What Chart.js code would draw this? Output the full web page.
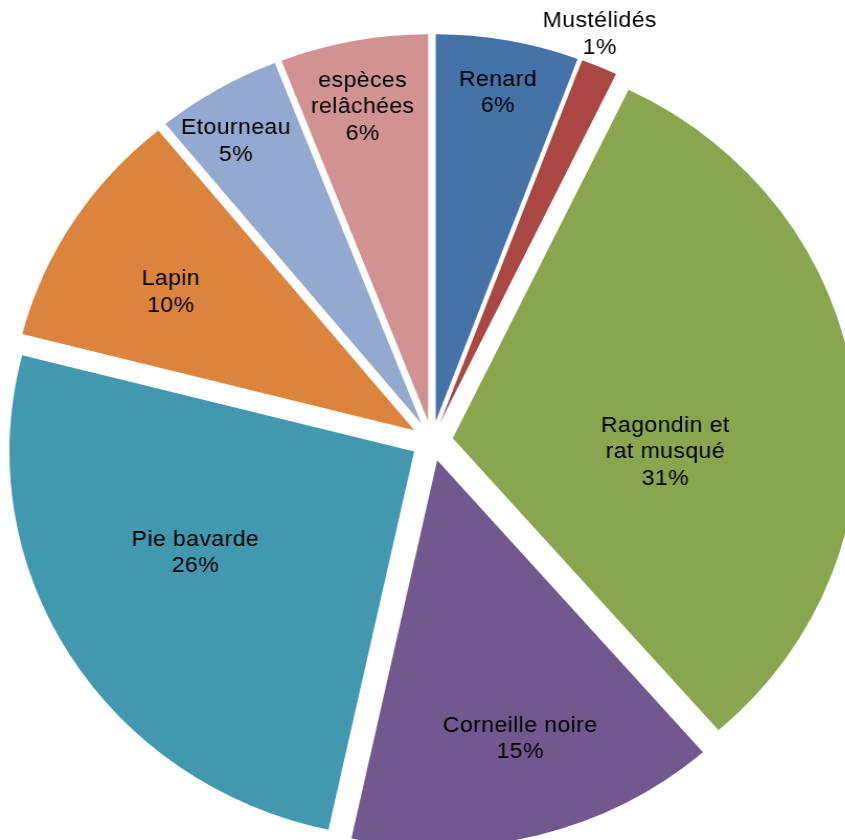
<!DOCTYPE html>
<html>
<head>
<meta charset="utf-8">
<script src="https://cdn.jsdelivr.net/npm/chart.js@4/dist/chart.umd.min.js"></script>
<style>
  html, body { margin: 0; padding: 0; background: #fff; overflow: hidden; width: 845px; height: 840px; }
  #wrap { width: 826px; height: 882px; transform: scaleX(1.046); transform-origin: 0 0; }
</style>
</head>
<body>
<div id="wrap"><canvas id="chart"></canvas></div>
<script>
const categories = [
  ["Renard"],
  ["Mustélidés"],
  ["Ragondin et", "rat musqué"],
  ["Corneille noire"],
  ["Pie bavarde"],
  ["Lapin"],
  ["Etourneau"],
  ["espèces", "relâchées"]
];
const shares = [5.7, 1.45, 31.45, 14.8, 25.6, 10.1, 5.0, 5.9];
const colours = ["#4572A7", "#AA4643", "#89A54E", "#71588F", "#4198AF", "#DB843D", "#93A9CF", "#D19392"];

// where each label sits: share of the radius from the centre, and a small turn in degrees
const labelRadius = [0.914, 1.129, 0.577, 0.80, 0.652, 0.751, 0.913, 0.88];
const labelTurn = [0, -1.6, 10.5, -1.4, 5.4, -1.8, -1.8, -0.6];

const explode = 20;

const sliceLabels = {
  id: "sliceLabels",
  beforeDatasetDraw(chart, args) {
    // pull every slice out from the centre by the same distance
    const ctx = chart.ctx;
    args.meta.data.forEach((arc) => {
      const mid = (arc.startAngle + arc.endAngle) / 2;
      ctx.save();
      ctx.translate(Math.cos(mid) * explode, Math.sin(mid) * explode);
      arc.draw(ctx);
      ctx.restore();
    });
    return false;
  },
  afterDatasetsDraw(chart) {
    const ctx = chart.ctx;
    const meta = chart.getDatasetMeta(0);
    const total = shares.reduce((a, b) => a + b, 0);
    ctx.save();
    ctx.font = "22px 'Liberation Sans', Arial, sans-serif";
    ctx.letterSpacing = "0.4px";
    ctx.fillStyle = "#000";
    ctx.textAlign = "center";
    ctx.textBaseline = "middle";
    meta.data.forEach((arc, i) => {
      const mid = (arc.startAngle + arc.endAngle) / 2 + labelTurn[i] * Math.PI / 180;
      const r = arc.outerRadius * labelRadius[i];
      const x = arc.x + Math.cos(mid) * r;
      const y = arc.y + Math.sin(mid) * r;
      const lines = categories[i].concat(Math.round(shares[i] / total * 100) + "%");
      const lh = 26.5;
      lines.forEach((t, k) => {
        ctx.fillText(t, x, y + (k - (lines.length - 1) / 2) * lh);
      });
    });
    ctx.restore();
  }
};

const chartContainer = document.getElementById("chart");

new Chart(chartContainer, {
  type: "pie",
  data: {
    labels: categories,
    datasets: [
      {
        data: shares,
        backgroundColor: colours,
        borderWidth: 0,
        radius: 387
      }
    ]
  },
  options: {
    responsive: true,
    maintainAspectRatio: false,
    animation: false,
    events: [],
    layout: { padding: 0 },
    plugins: {
      legend: { display: false },
      tooltip: { enabled: false }
    }
  },
  plugins: [sliceLabels]
});
</script>
</body>
</html>
